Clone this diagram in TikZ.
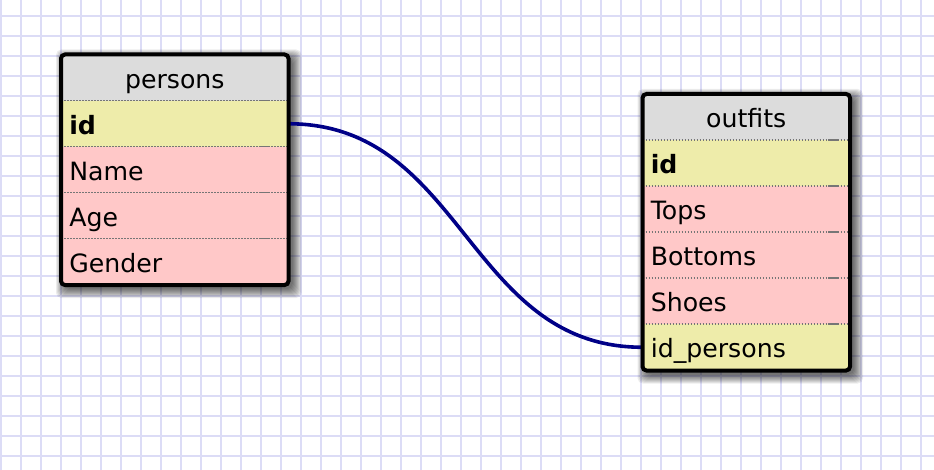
\documentclass[tikz,border=0pt]{standalone}
\usepackage{fontspec}
\setmainfont{DejaVu Sans}
\definecolor{gridc}{RGB}{220,220,246}
\definecolor{headc}{RGB}{220,220,220}
\definecolor{keyc}{RGB}{238,236,170}
\definecolor{fieldc}{RGB}{255,200,200}
\definecolor{sepc}{RGB}{118,118,118}
\definecolor{linkc}{RGB}{0,0,135}
\pgfdeclarelayer{back}
\pgfdeclarelayer{links}
\pgfsetlayers{back,links,main}
\newcommand\cellfont{\fontsize{18.9}{22}\selectfont}
\begin{document}
\begin{tikzpicture}[x=0.75pt,y=-0.75pt,
  gridline/.style={draw=gridc, line width=1.5pt},
  cell/.style={anchor=north west, inner sep=0pt, minimum height=34.5pt, draw=none},
  pcell/.style={cell, minimum width=170.25pt},
  ocell/.style={cell, minimum width=155.25pt},
  celltext/.style={anchor=base west, inner sep=0pt, font=\cellfont, xshift=6pt, yshift=-25.2pt},
  headtext/.style={anchor=base, inner sep=0pt, font=\cellfont, yshift=-25.2pt},
  sep/.style={draw=sepc, line width=1.3pt, dash pattern=on 1.2pt off 1.05pt},
  sepmark/.style={draw=sepc, line width=1.3pt},
  frame/.style={draw=black, line width=3pt, rounded corners=3pt},
  shade/.style={fill=black, fill opacity=0.075, rounded corners=4pt},
  link/.style={draw=linkc, line width=2.7pt}
]
\useasboundingbox (0,0) rectangle (934,470);

% white sheet with graph paper
\begin{pgfonlayer}{back}
\fill[white] (0,0) rectangle (934,470);
\begin{scope}
\clip (0,0) rectangle (934,470);
\foreach \gx in {1,21,...,941} \draw[gridline] (\gx,0) -- (\gx,470);
\foreach \gy in {16,36,...,476} \draw[gridline] (0,\gy) -- (934,\gy);
\end{scope}
\end{pgfonlayer}

% table: persons
\node[pcell, fill=headc]  (p-head) at (61,54.5) {};
\node[pcell, fill=keyc]   (p-id)   at (61,100.5) {};
\node[pcell, fill=fieldc] (p-name) at (61,146.5) {};
\node[pcell, fill=fieldc] (p-age)  at (61,192.5) {};
\node[pcell, fill=fieldc] (p-gen)  at (61,238.5) {};
\node[headtext] (p-head-t) at (p-head.north) {persons};
\node[celltext] (p-id-t)   at (p-id.north west)   {\bfseries id};
\node[celltext] (p-name-t) at (p-name.north west) {Name};
\node[celltext] (p-age-t)  at (p-age.north west)  {Age};
\node[celltext] (p-gen-t)  at (p-gen.north west)  {Gender};
\foreach \r in {p-id,p-name,p-age,p-gen}{
  \draw[sep] (\r.north west) -- (\r.north east);
  \draw[sepmark] ([xshift=-22.5pt]\r.north east) -- ([xshift=-15.75pt]\r.north east);
}
\draw[frame] (p-head.north west) rectangle (p-gen.south east);

% table: outfits
\node[ocell, fill=headc]  (o-head) at (642.5,94) {};
\node[ocell, fill=keyc]   (o-id)   at (642.5,140) {};
\node[ocell, fill=fieldc] (o-tops) at (642.5,186) {};
\node[ocell, fill=fieldc] (o-bot)  at (642.5,232) {};
\node[ocell, fill=fieldc] (o-shoe) at (642.5,278) {};
\node[ocell, fill=keyc]   (o-idp)  at (642.5,324) {};
\node[headtext] (o-head-t) at (o-head.north) {outfits};
\node[celltext] (o-id-t)   at (o-id.north west)   {\bfseries id};
\node[celltext] (o-tops-t) at (o-tops.north west) {Tops};
\node[celltext] (o-bot-t)  at (o-bot.north west)  {Bottoms};
\node[celltext] (o-shoe-t) at (o-shoe.north west) {Shoes};
\node[celltext] (o-idp-t)  at (o-idp.north west)  {id\_persons};
\foreach \r in {o-id,o-tops,o-bot,o-shoe,o-idp}{
  \draw[sep] (\r.north west) -- (\r.north east);
  \draw[sepmark] ([xshift=-16.5pt]\r.north east) -- ([xshift=-9pt]\r.north east);
}
\draw[frame] (o-head.north west) rectangle (o-idp.south east);

% soft drop shadows under both tables
\begin{pgfonlayer}{back}
\foreach \i in {0,...,9}{
  \fill[shade] ([xshift=3pt-\i*0.75pt, yshift=-3pt+\i*0.75pt]p-head.north west)
     rectangle ([xshift=3pt+\i*0.75pt, yshift=-3pt-\i*0.75pt]p-gen.south east);
  \fill[shade] ([xshift=3pt-\i*0.75pt, yshift=-3pt+\i*0.75pt]o-head.north west)
     rectangle ([xshift=3pt+\i*0.75pt, yshift=-3pt-\i*0.75pt]o-idp.south east);
}
\end{pgfonlayer}

% relation persons.id -> outfits.id_persons
\begin{pgfonlayer}{links}
\draw[link] (p-id.east) .. controls +(175,0) and +(-175,0) .. (o-idp.west);
\end{pgfonlayer}
\end{tikzpicture}
\end{document}
